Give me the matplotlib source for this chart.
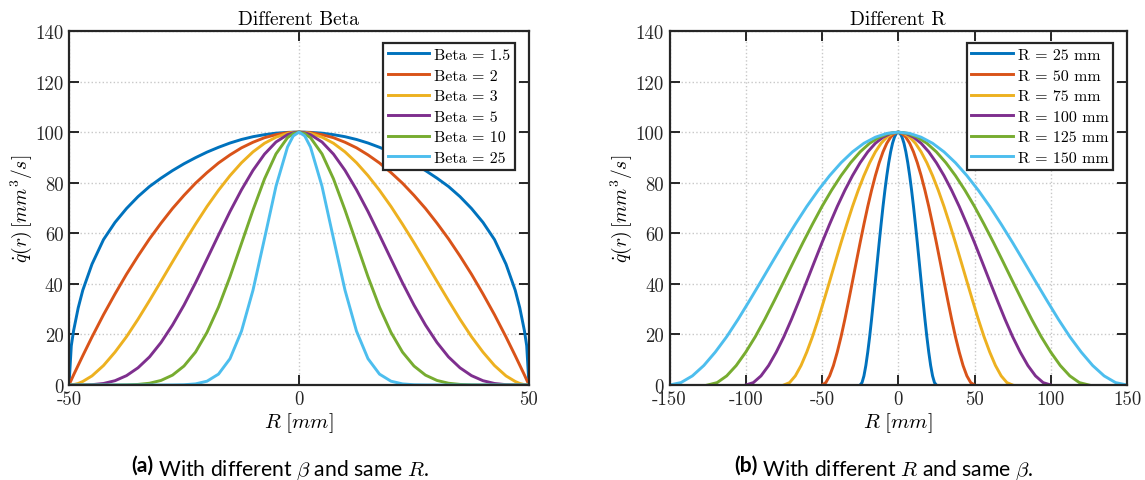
import numpy as np
import matplotlib
matplotlib.use('Agg')
import matplotlib.pyplot as plt

plt.rcParams['font.family'] = 'cmr10'
plt.rcParams['mathtext.fontset'] = 'cm'
plt.rcParams['axes.unicode_minus'] = False
plt.rcParams['axes.formatter.use_mathtext'] = True

# matlab default colours
colors = ['#0072BD', '#D95319', '#EDB120', '#7E2F8E', '#77AC30', '#4DBEEE']

# (a) different beta, R = 50 mm
r_a = [-50, -49.5, -49, -48, -47, -45, -42.5, -40, -37.5, -35, -32.5, -30, -27.5,
       -25, -22.5, -20, -17.5, -15, -12.5, -10, -7.5, -5, -2.5, -1.25, 0,
       1.25, 2.5, 5, 7.5, 10, 12.5, 15, 17.5, 20, 22.5, 25, 27.5, 30, 32.5, 35,
       37.5, 40, 42.5, 45, 47, 48, 49, 49.5, 50]

q_b15 = [0, 15.5, 21.5, 30.5, 37.5, 47.8, 57.5, 64.3, 69.8, 74.5, 78.5, 81.8, 84.8,
         87.5, 89.9, 92.1, 94.0, 95.7, 97.1, 98.2, 99.0, 99.6, 99.9, 100.0, 100,
         100.0, 99.9, 99.6, 99.0, 98.2, 97.1, 95.7, 94.0, 92.1, 89.9, 87.5, 84.8, 81.8, 78.5, 74.5,
         69.8, 64.3, 57.5, 47.8, 37.5, 30.5, 21.5, 15.5, 0]
q_b2 = [0, 2.0, 4.0, 7.8, 11.6, 19.0, 27.8, 36.0, 43.8, 51.0, 57.8, 64.0, 69.8,
        75.0, 79.8, 84.0, 87.8, 91.0, 93.8, 96.0, 97.8, 99.0, 99.8, 99.9, 100,
        99.9, 99.8, 99.0, 97.8, 96.0, 93.8, 91.0, 87.8, 84.0, 79.8, 75.0, 69.8, 64.0, 57.8, 51.0,
        43.8, 36.0, 27.8, 19.0, 11.6, 7.8, 4.0, 2.0, 0]
q_b3 = [0, 0.04, 0.16, 0.6, 1.4, 3.6, 7.7, 13.0, 19.1, 26.0, 33.4, 41.0, 48.7,
        56.3, 63.6, 70.6, 77.0, 82.8, 87.9, 92.2, 95.6, 98.0, 99.5, 99.9, 100,
        99.9, 99.5, 98.0, 95.6, 92.2, 87.9, 82.8, 77.0, 70.6, 63.6, 56.3, 48.7, 41.0, 33.4, 26.0,
        19.1, 13.0, 7.7, 3.6, 1.4, 0.6, 0.16, 0.04, 0]
q_b5 = [0, 0, 0, 0, 0.02, 0.13, 0.6, 1.7, 3.7, 6.8, 11.1, 16.8, 23.7,
        31.6, 40.4, 49.8, 59.3, 68.6, 77.2, 84.9, 91.3, 96.1, 99.0, 99.75, 100,
        99.75, 99.0, 96.1, 91.3, 84.9, 77.2, 68.6, 59.3, 49.8, 40.4, 31.6, 23.7, 16.8, 11.1, 6.8,
        3.7, 1.7, 0.6, 0.13, 0.02, 0, 0, 0, 0]
q_b10 = [0, 0, 0, 0, 0, 0, 0, 0.01, 0.06, 0.23, 0.7, 1.8, 3.9,
         7.5, 13.0, 20.8, 30.8, 42.8, 56.0, 69.2, 81.5, 91.4, 97.8, 99.4, 100,
         99.4, 97.8, 91.4, 81.5, 69.2, 56.0, 42.8, 30.8, 20.8, 13.0, 7.5, 3.9, 1.8, 0.7, 0.23,
         0.06, 0.01, 0, 0, 0, 0, 0, 0, 0]
q_b25 = [0, 0, 0, 0, 0, 0, 0, 0, 0, 0, 0, 0, 0.02,
         0.1, 0.44, 1.5, 4.3, 10.4, 21.3, 37.5, 57.9, 78.6, 94.1, 98.5, 100,
         98.5, 94.1, 78.6, 57.9, 37.5, 21.3, 10.4, 4.3, 1.5, 0.44, 0.1, 0.02, 0, 0, 0,
         0, 0, 0, 0, 0, 0, 0, 0, 0]
labels_a = ['Beta = 1.5', 'Beta = 2', 'Beta = 3', 'Beta = 5', 'Beta = 10', 'Beta = 25']

# (b) different R, same beta: every curve has the same shape read at r/R steps of 0.05
radii = [25, 50, 75, 100, 125, 150]
q_profile = [0, 0.95, 3.6, 7.7, 13.0, 19.1, 26.0, 33.4, 41.0, 48.7, 56.3, 63.6, 70.6,
             77.0, 82.8, 87.9, 92.2, 95.6, 98.0, 99.5, 100,
             99.5, 98.0, 95.6, 92.2, 87.9, 82.8, 77.0, 70.6, 63.6, 56.3, 48.7, 41.0,
             33.4, 26.0, 19.1, 13.0, 7.7, 3.6, 0.95, 0]
labels_b = ['R = 25 mm', 'R = 50 mm', 'R = 75 mm', 'R = 100 mm', 'R = 125 mm', 'R = 150 mm']

W, H = 1145, 481
fig = plt.figure(figsize=(W / 100, H / 100), dpi=100)
ax1 = fig.add_axes([69 / W, 1 - 386 / H, 460 / W, 354 / H])
ax2 = fig.add_axes([669.5 / W, 1 - 386 / H, 457.5 / W, 354 / H])

for q, c, lab in zip([q_b15, q_b2, q_b3, q_b5, q_b10, q_b25], colors, labels_a):
    ax1.plot(r_a, q, color=c, lw=2.1, label=lab)

for R, c, lab in zip(radii, colors, labels_b):
    ax2.plot(np.linspace(-R, R, len(q_profile)), q_profile, color=c, lw=2.1, label=lab)


def style(ax, xt, title):
    ax.set_xlim(xt[0], xt[-1])
    ax.set_ylim(0, 140)
    ax.set_xticks(xt)
    ax.set_xticklabels([str(v) for v in xt])
    ax.set_yticks(range(0, 141, 20))
    ax.set_yticklabels([str(v) for v in range(0, 141, 20)])
    ax.tick_params(direction='in', length=7, width=1.4, top=True, right=True,
                   labelsize=13.5, colors='#262626', pad=4)
    ax.grid(True, ls=':', color='#c8c8c8', lw=1.0)
    for s in ax.spines.values():
        s.set_linewidth(1.6)
        s.set_color('#262626')
    ax.set_title(title, fontsize=14, pad=5)
    ax.set_xlabel(r'$R\ [mm]$', fontsize=15, labelpad=1)
    ax.set_ylabel(r'$\dot{q}(r)\,[mm^3/s]$', fontsize=14, labelpad=1)
    leg = ax.legend(loc='upper right', bbox_to_anchor=(0.97, 0.966), borderaxespad=0,
                    fontsize=11.5, fancybox=False, framealpha=1, edgecolor='#262626',
                    handlelength=2.6, handletextpad=0.3, labelspacing=0.4,
                    borderpad=0.3)
    leg.get_frame().set_linewidth(1.6)


style(ax1, [-50, 0, 50], 'Different Beta')
style(ax2, [-150, -100, -50, 0, 50, 100, 150], 'Different R')

# captions under each panel
for x0, tag, rest in [(131, '(a)', r' With different $\beta$ and same $R$.'),
                      (734, '(b)', r' With different $R$ and same $\beta$.')]:
    t = fig.text(x0 / W, 1 - 472 / H, tag, fontsize=15.2, family='Lato', weight='bold',
                 va='baseline')
    ax1.annotate(rest, xy=(1, 0), xycoords=t, va='baseline', ha='left',
                 fontsize=15.2, family='Lato', annotation_clip=False)

fig.savefig('out.png', dpi=100)
